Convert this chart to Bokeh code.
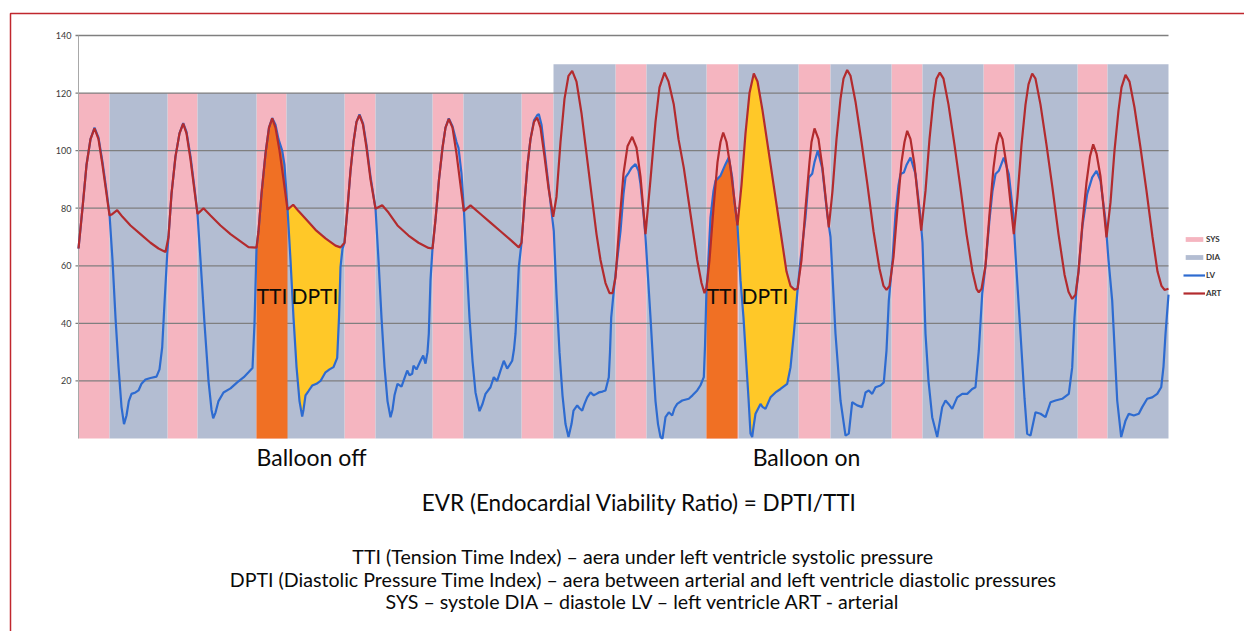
from bokeh.plotting import figure
from bokeh.models import Range1d, Label, Legend, LegendItem, BoxAnnotation
from bokeh.core.properties import value
from bokeh.embed import file_html
from bokeh.resources import INLINE

# ---------------------------------------------------------------------------
# Pressure traces (time in s, pressure in mmHg)
# ---------------------------------------------------------------------------
art_t = [0.00, 0.04, 0.08, 0.12, 0.16, 0.20, 0.24, 0.28, 0.31, 0.34, 0.387, 0.44,
         0.52, 0.62, 0.72, 0.80, 0.87,
         0.90, 0.93, 0.97, 1.01, 1.047, 1.08, 1.12, 1.16, 1.19, 1.22, 1.25, 1.32,
         1.42, 1.52, 1.62, 1.70, 1.78,
         1.80, 1.83, 1.87, 1.905, 1.937, 1.97, 2.01, 2.05, 2.09, 2.147, 2.20, 2.28,
         2.37, 2.47, 2.57, 2.62,
         2.66, 2.69, 2.72, 2.75, 2.78, 2.81, 2.845, 2.88, 2.92, 2.97, 3.037, 3.10,
         3.19, 3.30, 3.40, 3.50, 3.54,
         3.57, 3.605, 3.64, 3.67, 3.703, 3.74, 3.78, 3.82, 3.853, 3.92, 4.02, 4.12,
         4.22, 4.32, 4.403,
         4.43, 4.46, 4.49, 4.52, 4.555, 4.587, 4.62, 4.66, 4.70, 4.747, 4.78, 4.82,
         4.86, 4.90, 4.937, 4.98, 5.03, 5.08, 5.137, 5.18, 5.22, 5.27, 5.31, 5.34,
         5.37, 5.41, 5.45, 5.49, 5.537, 5.58, 5.62, 5.67, 5.72, 5.77, 5.81, 5.86,
         5.90, 5.953, 6.00, 6.053, 6.12, 6.187, 6.23, 6.26,
         6.28, 6.31, 6.35, 6.39, 6.42, 6.447, 6.48, 6.52, 6.59, 6.63, 6.67, 6.71,
         6.753, 6.79, 6.84, 6.90, 6.96, 7.02, 7.08, 7.12, 7.16, 7.19,
         7.23, 7.27, 7.31, 7.33, 7.36, 7.40, 7.44, 7.503, 7.54, 7.58, 7.62, 7.65,
         7.687, 7.72, 7.77, 7.83, 7.89, 7.95, 8.01, 8.05, 8.08, 8.11,
         8.15, 8.19, 8.23, 8.26, 8.287, 8.32, 8.36, 8.427, 8.47, 8.51, 8.55, 8.58,
         8.613, 8.65, 8.70, 8.76, 8.82, 8.88, 8.94, 8.98, 9.003, 9.03,
         9.07, 9.11, 9.15, 9.18, 9.21, 9.24, 9.28, 9.353, 9.39, 9.43, 9.47, 9.50,
         9.537, 9.57, 9.62, 9.68, 9.74, 9.80, 9.86, 9.90, 9.937, 9.97,
         10.00, 10.04, 10.08, 10.115, 10.147, 10.18, 10.22, 10.28, 10.32, 10.36,
         10.40, 10.43, 10.47, 10.51, 10.56, 10.62, 10.68, 10.74, 10.79, 10.83,
         10.86, 10.90]
art_p = [66, 80, 95, 104, 107.7, 104, 95, 85, 77.5, 78, 79.3, 77,
         74, 71, 68, 66, 64.8,
         70, 85, 98, 106, 109.4, 106, 97, 86, 78, 79, 80, 77.5,
         74, 71, 68.5, 66.5, 66.3,
         72, 85, 99, 108, 111.2, 108, 100, 90, 79.5, 81.2, 79, 76,
         72.5, 69.5, 67, 66.4,
         68, 80, 93, 103, 110, 112.3, 109, 101, 90, 79.8, 81, 78.5,
         74, 70.5, 68, 66.2, 66,
         76, 90, 101, 108, 111, 108, 99, 88, 79, 81, 78, 75,
         72, 69, 66.4,
         68, 82, 95, 104, 110, 111.5, 108, 98, 87, 77, 84, 103,
         118, 126, 127.7, 124, 113, 99, 83, 71, 62, 54, 50.5, 50.5,
         56, 75, 92, 101.5, 104.8, 101, 91, 71, 90, 110, 122, 127.1,
         124, 116, 104, 94, 78, 62, 54, 50.5,
         52.5, 62, 80, 96, 103, 106.3, 103, 94, 74, 88, 106, 120,
         126.8, 124, 114, 100, 86, 72, 58, 53, 51.7, 52,
         62, 80, 96, 103, 107.7, 104, 94, 73.3, 86, 104, 118, 125,
         128, 126, 117, 103, 88, 72, 59, 53, 51.6, 53,
         63, 80, 96, 103, 106.9, 104, 95, 72.2, 86, 104, 118, 125,
         127.1, 125, 116, 102, 87, 71, 58, 52, 50.8, 52,
         60, 78, 94, 102, 106.3, 104, 95, 71, 84, 102, 116, 123,
         126.8, 125, 116, 102, 87, 71, 57, 51, 48.5, 50,
         58, 75, 89, 98, 102.2, 99, 91, 69.9, 82, 100,
         114, 122, 126.3, 124, 115, 101, 86, 70, 58, 53,
         51.6, 52]

lv_t = [0.00, 0.04, 0.08, 0.12, 0.16, 0.20, 0.24, 0.28, 0.31, 0.34, 0.37, 0.40,
        0.43, 0.455, 0.48, 0.503, 0.53, 0.57, 0.60, 0.63, 0.67, 0.72, 0.78, 0.81,
        0.837, 0.86, 0.887,
        0.90, 0.93, 0.97, 1.01, 1.047, 1.08, 1.12, 1.16, 1.19, 1.22, 1.26, 1.30,
        1.33, 1.347, 1.37, 1.40, 1.45, 1.52, 1.587, 1.653, 1.70, 1.74, 1.76, 1.78,
        1.80, 1.83, 1.87, 1.905, 1.937, 1.97, 2.00, 2.037, 2.06, 2.09, 2.12, 2.15,
        2.18, 2.21, 2.237, 2.25, 2.27, 2.30, 2.337, 2.38, 2.42, 2.47, 2.51, 2.55,
        2.587, 2.605, 2.62, 2.64,
        2.66, 2.69, 2.72, 2.75, 2.78, 2.81, 2.845, 2.88, 2.92, 2.97, 3.00, 3.03,
        3.06, 3.09, 3.12, 3.14, 3.16, 3.19, 3.23, 3.26, 3.287, 3.31, 3.337, 3.35,
        3.38, 3.42, 3.447, 3.47, 3.49, 3.503, 3.52, 3.54,
        3.57, 3.605, 3.64, 3.67, 3.703, 3.74, 3.78, 3.80, 3.83, 3.853, 3.88, 3.91,
        3.94, 3.97, 4.01, 4.04, 4.07, 4.12, 4.153, 4.187, 4.22, 4.253, 4.287, 4.31,
        4.337, 4.355, 4.37, 4.39, 4.403,
        4.43, 4.46, 4.49, 4.52, 4.555, 4.587, 4.603, 4.63, 4.66, 4.70, 4.753, 4.78,
        4.81, 4.84, 4.87, 4.90, 4.93, 4.95, 4.987, 5.01, 5.037, 5.06, 5.087, 5.12,
        5.153, 5.18, 5.203, 5.24, 5.27, 5.303, 5.315, 5.327, 5.353,
        5.38, 5.42, 5.45, 5.47, 5.503, 5.53, 5.57, 5.60, 5.62, 5.65, 5.67, 5.695,
        5.72, 5.745, 5.77, 5.795, 5.82, 5.84, 5.87, 5.903, 5.937, 5.96, 5.987, 6.037,
        6.103, 6.14, 6.187, 6.22, 6.253, 6.265,
        6.28, 6.29, 6.32, 6.35, 6.37, 6.42, 6.47, 6.503, 6.537, 6.56, 6.59, 6.62,
        6.65, 6.68, 6.70, 6.72, 6.737, 6.75, 6.77, 6.82, 6.84, 6.87, 6.92, 6.97,
        7.02, 7.087, 7.12, 7.153, 7.19,
        7.22, 7.27, 7.303, 7.337, 7.36, 7.393, 7.437, 7.487, 7.52, 7.57, 7.62, 7.67,
        7.703, 7.737, 7.787, 7.837, 7.87, 7.903, 7.937, 7.97, 8.02, 8.053, 8.08,
        8.103,
        8.14, 8.17, 8.20, 8.22, 8.253, 8.28, 8.32, 8.37, 8.42, 8.44, 8.47, 8.50,
        8.537, 8.587, 8.637, 8.67, 8.70, 8.737, 8.787, 8.837, 8.887, 8.937, 8.97,
        9.003, 9.037,
        9.07, 9.11, 9.14, 9.17, 9.203, 9.253, 9.303, 9.347, 9.37, 9.42, 9.46, 9.487,
        9.52, 9.57, 9.62, 9.67, 9.72, 9.77, 9.837, 9.903, 9.937, 9.96, 9.98,
        10.00, 10.04, 10.087, 10.137, 10.18, 10.22, 10.27, 10.30, 10.337, 10.387,
        10.427, 10.47, 10.503, 10.553, 10.603, 10.637, 10.687, 10.737, 10.787,
        10.827, 10.85, 10.87, 10.90]
lv_p = [66, 80, 95, 104, 108, 104.5, 96, 86, 78, 62, 42, 25,
        11, 5, 8, 13, 15.5, 16, 16.7, 19, 20.5, 21, 21.5, 24,
        31.7, 47, 64,
        70, 85, 98, 106, 109.6, 106.5, 98, 87, 78, 62, 40, 20,
        10, 7, 9, 13, 16, 17.4, 19.5, 21.3, 23, 24.5, 40, 66,
        72, 85, 99, 108, 111.3, 109, 104, 100, 95, 80, 62, 42,
        25, 13, 7.6, 10, 15, 16.5, 18.4, 19, 20, 23, 24, 24.8,
        28, 42, 59.5, 66,
        68, 80, 93, 103, 110, 112.6, 109.5, 102, 91, 80, 62, 42,
        25, 13, 7.4, 10, 15, 19, 18, 21, 23.6, 22, 22.5, 25.3,
        24, 27, 28.8, 26, 30, 36.4, 55, 66,
        76, 90, 101, 108, 111.2, 108.5, 103, 101, 92, 80, 62, 42,
        27, 16, 9.5, 12, 15.5, 17.8, 21.3, 20, 23.6, 27, 24.3, 25.5,
        27, 31, 36.4, 50, 59.5,
        68, 82, 95, 104, 110.5, 112.3, 112.7, 109, 100, 88, 72, 50,
        30, 15, 5, 0.5, 5, 9.7, 11.5, 10.5, 9.7, 12, 14.3, 16,
        15, 15.5, 16, 16.3, 16.7, 21.3, 30, 42, 51.4,
        60, 72, 85, 90.7, 92.4, 94, 95.3, 93, 88.4, 78, 70, 56,
        42, 27, 13, 5, 0.5, 0, 7.4, 9.1, 8, 10.5, 12, 13.2,
        13.8, 15, 16.7, 18.5, 21.3, 32,
        52, 56, 76.8, 86, 89.5, 91.3, 95.3, 97.6, 90.7, 82, 74, 55,
        42, 25, 14, 1.7, 0.5, 4, 8.6, 12, 11, 10.3, 14.3, 16,
        17.2, 19, 24.7, 36.3, 51.4,
        62, 76.8, 90.7, 92, 96, 100, 94, 78, 70, 36.4, 13.2, 1,
        1.7, 12.6, 11.5, 10.9, 16, 16.7, 15.5, 17.8, 18.4, 19.5, 30.5,
        47.9,
        62, 78, 88, 91.9, 92.4, 95, 97.6, 91.9, 76.8, 68, 36.4, 20,
        7.4, 0.5, 10.9, 13.2, 12, 10.3, 14.3, 15.5, 15.5, 17.2, 17.8,
        30.5, 50.2,
        60, 76, 86, 91.9, 93, 97.6, 91.9, 78, 64, 36.4, 14, 1.6,
        1, 9.1, 8.6, 7.4, 12.6, 13.2, 13.8, 15.5, 24.7, 42, 52,
        58, 74, 85, 90.7, 93, 89.5, 75.7, 62, 47.9, 13.2,
        0.5, 6.2, 8.6, 8, 8.6, 10.9, 13.8, 14.3, 15.5,
        17.8, 25, 36.3, 50]

# Systole / diastole phases (s) and the height of each shaded phase band
sys_start = [0.00, 0.89, 1.78, 2.66, 3.54, 4.43, 5.37, 6.28, 7.20, 8.13, 9.05, 9.99]
sys_end = [0.31, 1.19, 2.08, 2.97, 3.85, 4.75, 5.68, 6.60, 7.52, 8.44, 9.36, 10.29]
sys_top = [120, 120, 120, 120, 120, 120, 130, 130, 130, 130, 130, 130]
dia_start = [0.31, 1.19, 2.08, 2.97, 3.85, 4.75, 5.68, 6.60, 7.52, 8.44, 9.36, 10.29]
dia_end = [0.89, 1.78, 2.66, 3.54, 4.43, 5.37, 6.28, 7.20, 8.13, 9.05, 9.99, 10.90]
dia_top = [120, 120, 120, 120, 120, 130, 130, 130, 130, 130, 130, 130]

# Integration windows (s): one beat without and one beat with the balloon
tti_windows = [(1.78, 2.09), (6.28, 6.59)]
dpti_windows = [(2.09, 2.62), (6.59, 7.19)]
index_label_p = 49.6

y_ticks = [20, 40, 60, 80, 100, 120, 140]
y_tick_labels = ["20", "40", "60", "80", "100", "120", "140"]

segments = ["Balloon off", "Balloon on"]
segment_mid_t = [2.33, 7.28]

title_text = "EVR (Endocardial Viability Ratio) = DPTI/TTI"
notes = [
    "TTI (Tension Time Index) \u2013 aera under left ventricle systolic pressure",
    "DPTI (Diastolic Pressure Time Index) \u2013 aera between arterial and left ventricle diastolic pressures",
    "SYS \u2013 systole DIA \u2013 diastole LV \u2013 left ventricle ART - arterial",
]

# ---------------------------------------------------------------------------
FONT = "Lato"
PINK = "#F5B5C0"
GREY_BLUE = "#B3BDD2"
LV_BLUE = "#2E6BD0"
ART_RED = "#B32B2E"
TTI_ORANGE = "#F07024"
DPTI_YELLOW = "#FFC828"
GRID = "#7F7F7F"
INK = "#0A0A0A"

W, H = 1244, 631
T_END = 10.90          # end of the recording (s)
P_TOP = 140            # top of the pressure scale (mmHg)
PX_PER_S = 100.0       # horizontal scale of the trace panel
PX_PER_MMHG = 403 / P_TOP
PANEL_LEFT, PANEL_TOP = 78, 35   # trace panel position inside the page

# The drawing area spans the whole page; the trace panel uses the inner part
x_lo = -PANEL_LEFT / PX_PER_S
x_hi = x_lo + W / PX_PER_S
y_hi = P_TOP + PANEL_TOP / PX_PER_MMHG
y_lo = y_hi - H / PX_PER_MMHG

p = figure(width=W, height=H, output_backend="svg", toolbar_location=None,
           x_range=Range1d(x_lo, x_hi), y_range=Range1d(y_lo, y_hi),
           min_border=0)
p.axis.visible = False
p.grid.visible = False
p.outline_line_color = None
p.background_fill_color = "white"
p.border_fill_color = "white"

# phase bands sit beneath the grid lines
sys_r = p.quad(left=sys_start, right=sys_end, bottom=0, top=sys_top,
               fill_color=PINK, line_color=None, level="image")
dia_r = p.quad(left=dia_start, right=dia_end, bottom=0, top=dia_top,
               fill_color=GREY_BLUE, line_color=None, level="image")

# horizontal grid, value axis line and tick marks
tick_len = 3 / PX_PER_S
p.segment(x0=[-tick_len] * len(y_ticks), x1=[T_END] * len(y_ticks),
          y0=y_ticks, y1=y_ticks, line_color=GRID, line_width=1.3,
          level="underlay")
p.segment(x0=[0], x1=[0], y0=[0], y1=[P_TOP], line_color="#A8A8A8",
          line_width=1, level="underlay")
p.text(x=[-7 / PX_PER_S] * len(y_ticks), y=y_ticks, text=y_tick_labels,
       text_align="right", text_baseline="middle", text_font=value(FONT),
       text_font_size="9px", text_color="#3A3A3A")

# TTI: area under the LV trace during systole
tti_xs, tti_ys = [], []
for a, b in tti_windows:
    seg = [(t, v) for t, v in zip(lv_t, lv_p) if a <= t <= b]
    tti_xs.append([a] + [t for t, _ in seg] + [b])
    tti_ys.append([0] + [v for _, v in seg] + [0])
p.patches(tti_xs, tti_ys, fill_color=TTI_ORANGE, line_color=None)

# DPTI: area between the arterial and LV traces during diastole
dpti_xs, dpti_ys = [], []
for a, b in dpti_windows:
    upper = [(t, v) for t, v in zip(art_t, art_p) if a <= t <= b]
    lower = [(t, v) for t, v in zip(lv_t, lv_p) if a <= t <= b][::-1]
    dpti_xs.append([t for t, _ in upper] + [t for t, _ in lower])
    dpti_ys.append([v for _, v in upper] + [v for _, v in lower])
p.patches(dpti_xs, dpti_ys, fill_color=DPTI_YELLOW, line_color=None)

lv_r = p.line(lv_t, lv_p, line_color=LV_BLUE, line_width=2.2)
art_r = p.line(art_t, art_p, line_color=ART_RED, line_width=2.2)

for (a, b) in tti_windows:
    p.add_layout(Label(x=(a + b) / 2, y=index_label_p, text="TTI",
                       text_align="center", text_baseline="middle",
                       text_font=FONT, text_font_size="21px", text_color=INK))
for (a, b) in dpti_windows:
    p.add_layout(Label(x=a + 0.04, y=index_label_p, text="DPTI",
                       text_align="left", text_baseline="middle",
                       text_font=FONT, text_font_size="21px", text_color=INK))

# legend to the right of the traces (screen offsets from the bottom-left)
legend = Legend(items=[LegendItem(label="SYS", renderers=[sys_r]),
                       LegendItem(label="DIA", renderers=[dia_r]),
                       LegendItem(label="LV", renderers=[lv_r]),
                       LegendItem(label="ART", renderers=[art_r])],
                location=(1183, 333), orientation="vertical",
                glyph_width=22, glyph_height=6, label_height=10, spacing=8,
                padding=0, margin=0, label_standoff=1,
                label_text_font=FONT, label_text_font_size="8px",
                label_text_font_style="bold", label_text_color="#333333",
                border_line_color=None, background_fill_alpha=0)
p.add_layout(legend)

# segment captions under the traces
for name, t in zip(segments, segment_mid_t):
    p.add_layout(Label(x=t, y=H - 456, y_units="screen", text=name,
                       text_align="center", text_baseline="middle",
                       text_font=FONT, text_font_size="23px", text_color=INK))

# explanatory notes
p.add_layout(Label(x=639, y=H - 502, x_units="screen", y_units="screen",
                   text=title_text, text_align="center", text_baseline="middle",
                   text_font=FONT, text_font_size="22.5px", text_color=INK))
for i, line in enumerate(notes):
    p.add_layout(Label(x=643, y=H - 556 - 22.5 * i, x_units="screen",
                       y_units="screen", text=line, text_align="center",
                       text_baseline="middle", text_font=FONT,
                       text_font_size="19.6px", text_color=INK))

# frame rule around the figure panel
p.add_layout(BoxAnnotation(left=10, right=W + 50, top=H - 13, bottom=-50,
                           left_units="screen", right_units="screen",
                           top_units="screen", bottom_units="screen",
                           fill_alpha=0, line_alpha=1, line_color="#C0272D",
                           line_width=1.5))

open("out.html", "w").write(file_html(p, INLINE))
